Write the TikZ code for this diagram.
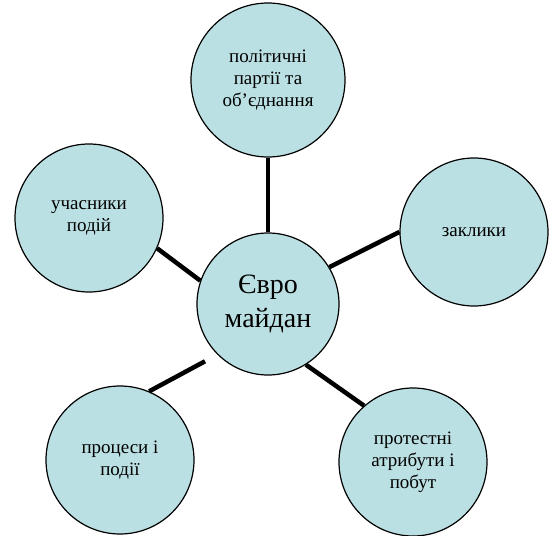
\documentclass[tikz,border=0pt]{standalone}
\usepackage{fontspec}
\setmainfont{Liberation Serif}
\usepackage{xcolor}
\definecolor{bubblefill}{RGB}{187,224,227}

\begin{document}
\begin{tikzpicture}[x=1pt, y=-1pt,
  bubble/.style = {circle, draw, line width=1.2pt, fill=bubblefill, minimum size=148pt,
    inner sep=0pt, align=center, font=\fontsize{19}{22}\selectfont},
  hub/.style = {bubble, minimum size=142pt, font=\fontsize{28}{34}\selectfont},
  spoke/.style = {line width=4.5pt}
]
\useasboundingbox (0,0) rectangle (550,536);
\node[hub] (euro) at (268,304) {Євро\\майдан};
\node[bubble, minimum size=154pt] (parties) at (268,80) {політичні\\партії та\\об’єднання};
\node[bubble] (slogans) at (474,232) {заклики};
\node[bubble] (participants) at (89,218) {учасники\\подій};
\node[bubble] (processes) at (120,460) {процеси і\\події};
\node[bubble] (attributes) at (413,462) {протестні\\атрибути і\\побут};

\draw[spoke] (parties) -- (euro);
\draw[spoke] (euro.31) -- (slogans.west);
\draw[spoke] (participants.-24) -- (euro.161);
\draw[spoke, shorten >=14pt] (processes.67) -- (euro.225);
\draw[spoke] (euro.-58) -- (attributes.131);
\end{tikzpicture}
\end{document}
